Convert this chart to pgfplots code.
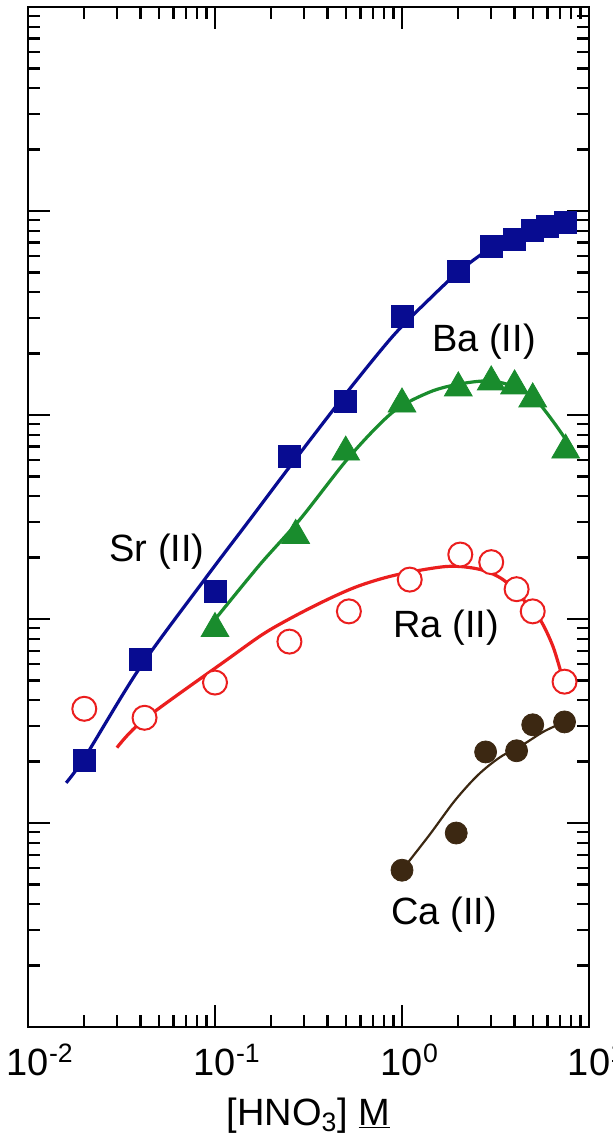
\documentclass[border=0pt]{standalone}
\usepackage{fontspec}
\setmainfont{Liberation Sans}
\usepackage{pgfplots}
\pgfplotsset{compat=1.18}
\definecolor{srblue}{RGB}{8,12,145}
\definecolor{bagreen}{RGB}{25,140,45}
\definecolor{rared}{RGB}{235,30,30}
\definecolor{cabrown}{RGB}{60,40,18}
\begin{document}
\begin{tikzpicture}[font=\fontsize{19}{22}\selectfont]
\begin{axis}[name=ax, scale only axis, width=280.5pt, height=510pt,
  xmode=log, ymode=log, xmin=0.01, xmax=10, ymin=1e-3, ymax=1e2,
  xtick={0.01,0.1,1,10},
  xticklabels={10\rlap{\textsuperscript{-2}},10\rlap{\textsuperscript{-1}},10\rlap{\textsuperscript{0}},10\rlap{\textsuperscript{1}}},
  xticklabel style={anchor=base, yshift=-24pt},
  ytick={1e-3,1e-2,1e-1,1,10,100}, yticklabels={},
  tick align=inside, major tick length=11pt, minor tick length=6pt,
  every tick/.style={black, line width=1.1pt},
  axis line style={line width=1.3pt},
  xlabel={[HNO\textsubscript{3}] \underline{M}},
  xlabel style={at={(rel axis cs:0.5,0)}, anchor=base, yshift=-49pt},
  clip=false]
% fitted curves
\addplot[srblue, line width=1.6pt, smooth] coordinates {
(0.0160,0.01574) (0.0202,0.0211) (0.0397,0.0578) (0.0906,0.162) (0.154,0.308)
(0.252,0.561) (0.495,1.254) (0.895,2.44) (1.41,3.72) (2.04,5.10) (2.96,6.54)
(4.28,7.67) (6.18,8.78) (8.20,9.72)};
\addplot[bagreen, line width=1.6pt, smooth] coordinates {
(0.1,0.0995) (0.174,0.185) (0.285,0.308) (0.527,0.629) (0.895,1.035) (1.41,1.297)
(2.04,1.42) (2.96,1.47) (4.02,1.373) (5.14,1.199) (6.58,0.903) (8.63,0.629)};
\addplot[rared, line width=1.6pt, smooth] coordinates {
(0.0299,0.0234) (0.0417,0.0321) (0.116,0.0632) (0.190,0.0868) (0.334,0.115)
(0.561,0.143) (0.918,0.164) (1.74,0.181) (2.61,0.175) (3.47,0.156) (4.43,0.125)
(5.47,0.0995) (6.42,0.0733) (7.26,0.0505)};
\addplot[cabrown, line width=1.1pt, smooth] coordinates {
(1.04,0.00615) (1.41,0.00880) (1.92,0.01290) (2.55,0.01720) (3.34,0.0210)
(4.43,0.0242) (5.82,0.0283) (7.91,0.0321)};
% data points
\addplot[only marks, mark=square*, mark size=5.5pt, srblue] coordinates {
(0.02,0.0202) (0.04,0.0632) (0.1,0.1365) (0.25,0.629) (0.5,1.172) (1,3.03)
(2,5.04) (3,6.69) (4,7.24) (5,8.02) (6,8.39) (7.5,8.78)};
\addplot[only marks, mark=triangle*, mark size=8pt, bagreen] coordinates {
(0.1,0.0898) (0.27,0.257) (0.5,0.658) (1,1.132) (2,1.358) (3,1.453) (4,1.389)
(5,1.199) (7.5,0.673)};
\addplot[only marks, mark=*, mark size=6pt, mark options={fill=white, draw=rared, line width=1pt}] coordinates {
(0.02,0.0363) (0.042,0.0328) (0.1,0.0488) (0.25,0.0775) (0.52,0.109) (1.1,0.156)
(2.05,0.207) (3,0.190) (4.1,0.140) (5,0.109) (7.4,0.0493)};
\addplot[only marks, mark=*, mark size=5.5pt, cabrown] coordinates {
(1,0.00587) (1.95,0.00893) (2.8,0.0223) (4.1,0.0226) (5,0.0303) (7.4,0.0313)};
% labels
\node[anchor=base] at (axis cs:0.049,0.1918) {Sr (II)};
\node[anchor=base] at (axis cs:2.745,2.04) {Ba (II)};
\node[anchor=base] at (axis cs:1.72,0.0811) {Ra (II)};
\node[anchor=base] at (axis cs:1.68,0.00319) {Ca (II)};
\end{axis}
\pgfresetboundingbox
\path[use as bounding box] ([xshift=-14pt,yshift=-56pt]ax.south west) rectangle ([xshift=11.5pt,yshift=3.5pt]ax.north east);
\end{tikzpicture}
\end{document}
